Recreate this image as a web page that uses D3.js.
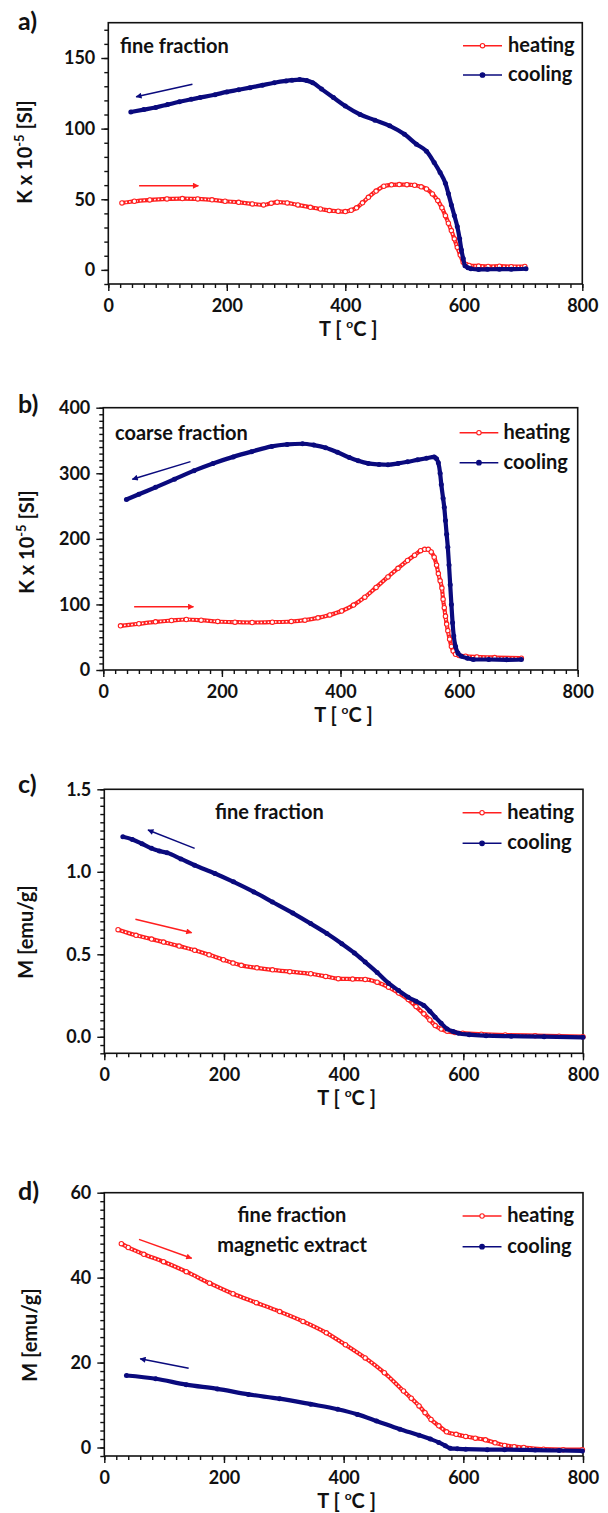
<!DOCTYPE html>
<html>
<head>
<meta charset="utf-8">
<script src="https://cdn.jsdelivr.net/npm/d3@7"></script>
<style>
  body { margin: 0; background: #fff; }
  svg { display: block; }
  text { font-family: Lato, 'Open Sans', sans-serif; font-weight: bold; fill: #111; }
</style>
</head>
<body>
<svg id="chart"></svg>
<script>
// ---- data (T in deg C) ----
const xTicks = [0, 200, 400, 600, 800];

// a) fine fraction, susceptibility
const tA_heat = [23,44,70,99,125,151,175,197,220,243,262,275,285,302,320,341,358,373,388,400,410,419,429,439,452,465,478,491,504,517,528,537,547,556,563,569,574,579,584,589,594,599,604,609,625,641,660,680,703];
const kA_heat = [47.4,48.6,49.5,50.2,50.5,50.2,49.6,48.6,47.8,46.7,46.0,47.2,47.9,47.4,46,44.3,43.1,42.0,41.5,41.3,42.2,43.9,47.5,51.4,55.8,59.2,60.2,60.4,60.3,59.9,58.8,57.3,53.8,49.1,44,38.4,33,27.8,22,16.0,10.5,5.4,3.8,3.1,2.7,2.4,2.6,2.3,2.4];
const tA_cool = [38,60,80,100,120,140,155,180,200,220,239,260,280,300,310,323,335,345,360,380,400,425,450,475,500,520,537,550,560,569,574,579,584,589,593,596,599,602,607,612,625,640,660,680,705];
const kA_cool = [111.8,113.5,115,117,119,120.8,122,124,126,127.5,129,130.8,132.5,133.8,134.3,134.7,134,132.5,128,122,116,110,106,102,96,89,84,76,69,61.3,54,46,38.5,30.7,22,14,8,3,1.5,0.8,0.3,0.4,0.5,0.5,0.8];

// b) coarse fraction, susceptibility
const tB_heat = [29,60,88,115,140,165,193,222,251,285,317,340,362,382,402,422,441,460,480,497,513,525,535,542,548,553,558,562,565,568,571,573,575,577,579,581,584,587,590,594,600,611,630,660,705];
const kB_heat = [67.3,70.5,73.4,75.5,77,76,74,73,72.4,73,74,76,79.5,84,90,99,111,126,142,155,167,175,182,184,184,180,172,160,147,136,125,108,95,82,70,60,47,36,29,24,22,21,20,19,18];
const tB_cool = [39,60,88,120,153,185,219,250,284,310,336,355,375,395,415,430,447,465,480,497,513,530,545,558,562,565,568,570,573,575,577,579,581,583,585,587,589,591,594,598,604,614,624,650,680,705];
const kB_cool = [260,268,278.5,291,304,315,325,333,341,344,345,343,339,332,324,319,315,313.5,313,315,317.5,320.5,323,325,322,316,300,283,262,248,228,207,187,160,130,100,72,52,36,26,21,18,16,16,15.5,16];

// c) fine fraction, magnetization
const tC_heat = [23,53,79,99,125,151,175,199,215,229,255,281,310,345,370,391,415,436,456,475,492,508,521,534,544,553,563,573,586,599,630,670,720,760,800];
const mC_heat = [0.649,0.615,0.592,0.574,0.55,0.524,0.497,0.467,0.447,0.433,0.418,0.406,0.395,0.382,0.366,0.352,0.350,0.348,0.331,0.301,0.265,0.226,0.183,0.139,0.102,0.068,0.047,0.034,0.026,0.022,0.016,0.011,0.007,0.004,0.001];
const tC_cool = [31,47,63,79,92,105,128,151,185,216,250,281,315,345,372,397,418,436,456,475,492,508,521,534,544,553,563,573,583,592,610,638,680,735,800];
const mC_cool = [1.212,1.196,1.17,1.142,1.126,1.115,1.078,1.04,0.99,0.939,0.878,0.817,0.75,0.686,0.626,0.564,0.508,0.453,0.39,0.325,0.28,0.24,0.215,0.19,0.155,0.119,0.082,0.048,0.032,0.022,0.013,0.007,0.004,0.001,-0.003];

// d) fine fraction magnetic extract, magnetization
const tD_heat = [28.5,40,66,99,137,176,215,254,293,332,371,403,436,468,500,513,526,536,546,559,572,588,604,620,637,653,669,685,701,734,767,799];
const mD_heat = [48,47.1,45.5,43.75,41.4,38.7,36.2,34.1,32,29.7,27,24.2,21.1,17.6,13.3,11.6,9.8,8.2,6.6,5.1,3.7,3.1,2.6,2.2,1.8,1.1,0.5,0.2,0,-0.4,-0.5,-0.5];
const tD_cool = [37,86,137,189,241,293,345,390,423,455,494,526,545,559,570,578,590,604,640,669,720,760,799];
const mD_cool = [16.95,16.2,14.8,13.8,12.5,11.5,10.2,9.0,7.8,6.25,4.3,2.9,2.0,1.2,0.4,-0.2,-0.3,-0.4,-0.5,-0.5,-0.6,-0.7,-0.8];

// direction arrows [t0, v0, t1, v1] in data units
const arrowsA = { cool: [142, 131.4, 47, 122.5], heat: [52, 59.6, 152, 59.6] };
const arrowsB = { cool: [147, 317.8, 49, 290.9], heat: [52, 96.6, 152, 96.6] };
const arrowsC = { cool: [151, 1.142, 73, 1.253], heat: [52, 0.712, 146, 0.631] };
const arrowsD = { cool: [141, 18.65, 60, 20.9], heat: [58, 49.0, 146, 44.55] };

const yTicksA = [0, 50, 100, 150];
const yTicksB = [0, 100, 200, 300, 400];
const yTicksC = [0, 0.5, 1.0, 1.5];
const yTicksD = [0, 20, 40, 60];

const RED = '#ff1f1f', BLUE = '#0a0a7d';

const panels = [
  { tag: 'a)', tagY: 30, box: { l: 108.3, r: 582.3, t: 22.7, b: 284 }, yDom: [-10, 175],
    yMajor: yTicksA, yStep: 10, fmt: d3.format('d'), ylab: 'kappa', ylabX: 32, ylabY: 152,
    heat: [tA_heat, kA_heat], cool: [tA_cool, kA_cool], arrows: arrowsA,
    notes: [{ s: 'fine fraction', x: 120, y: 53, a: 'start' }], leg: { x1: 463, x2: 502, y1: 45.7, y2: 75, tx: 508 } },
  { tag: 'b)', tagY: 413, box: { l: 103.3, r: 577.7, t: 407.7, b: 670 }, yDom: [0, 400],
    yMajor: yTicksB, yStep: 10, fmt: d3.format('d'), ylab: 'kappa', ylabX: 34, ylabY: 542,
    heat: [tB_heat, kB_heat], cool: [tB_cool, kB_cool], arrows: arrowsB,
    notes: [{ s: 'coarse fraction', x: 115, y: 440, a: 'start' }], leg: { x1: 459.6, x2: 498.3, y1: 432.7, y2: 462.7, tx: 503.5 } },
  { tag: 'c)', tagY: 793, box: { l: 104.3, r: 583, t: 789.3, b: 1053.3 }, yDom: [-0.1, 1.5],
    yMajor: yTicksC, yStep: 0.05, fmt: d3.format('.1f'), ylab: 'M', ylabX: 33, ylabY: 932,
    heat: [tC_heat, mC_heat], cool: [tC_cool, mC_cool], arrows: arrowsC,
    notes: [{ s: 'fine fraction', x: 215, y: 819, a: 'start' }], leg: { x1: 462.6, x2: 501.5, y1: 812.7, y2: 843.3, tx: 507.3 } },
  { tag: 'd)', tagY: 1200, box: { l: 104.3, r: 583, t: 1192.7, b: 1456 }, yDom: [-2, 60],
    yMajor: yTicksD, yStep: 2, fmt: d3.format('d'), ylab: 'M', ylabX: 37, ylabY: 1335,
    heat: [tD_heat, mD_heat], cool: [tD_cool, mD_cool], arrows: arrowsD,
    notes: [{ s: 'fine fraction', x: 292, y: 1221.7, a: 'middle' }, { s: 'magnetic extract', x: 292, y: 1251.7, a: 'middle' }],
    leg: { x1: 462.6, x2: 501.5, y1: 1216, y2: 1246.7, tx: 507.3 } }
];

const svg = d3.select('#chart').attr('width', 608).attr('height', 1513);
svg.append('rect').attr('width', 608).attr('height', 1513).attr('fill', '#fff');

const defs = svg.append('defs');
[['ah-heat', RED], ['ah-cool', BLUE]].forEach(([id, c]) => {
  defs.append('marker').attr('id', id).attr('viewBox', '0 0 10 10')
    .attr('refX', 9).attr('refY', 5).attr('markerWidth', 9).attr('markerHeight', 6)
    .attr('markerUnits', 'userSpaceOnUse').attr('orient', 'auto')
    .append('path').attr('d', 'M0,0L10,5L0,10z').attr('fill', c);
});

function styleAxis(sel, major) {
  sel.select('.domain').remove();
  sel.selectAll('line').attr('stroke', '#111').attr('stroke-width', 1.4);
  if (major) sel.selectAll('text').style('font-size', '18px').style('font-family', 'Lato, sans-serif').style('font-weight', 'bold').attr('fill', '#111');
}

panels.forEach(p => {
  const x = d3.scaleLinear().domain([0, 800]).range([p.box.l, p.box.r]);
  const y = d3.scaleLinear().domain(p.yDom).range([p.box.b, p.box.t]);
  const g = svg.append('g');

  const xMinor = d3.range(0, 801, 20);
  const yMinor = d3.range(Math.ceil(p.yDom[0] / p.yStep - 1e-6), Math.floor(p.yDom[1] / p.yStep + 1e-6) + 1).map(i => +(i * p.yStep).toFixed(4));

  g.append('g').attr('transform', `translate(0,${p.box.b})`)
    .call(d3.axisBottom(x).tickValues(xMinor).tickSize(4).tickFormat('')).call(s => styleAxis(s, false));
  g.append('g').attr('transform', `translate(0,${p.box.b})`)
    .call(d3.axisBottom(x).tickValues(xTicks).tickSize(7).tickPadding(8)).call(s => styleAxis(s, true));
  g.append('g').attr('transform', `translate(${p.box.l},0)`)
    .call(d3.axisLeft(y).tickValues(yMinor).tickSize(4).tickFormat('')).call(s => styleAxis(s, false));
  g.append('g').attr('transform', `translate(${p.box.l},0)`)
    .call(d3.axisLeft(y).tickValues(p.yMajor).tickSize(7).tickPadding(6).tickFormat(p.fmt)).call(s => styleAxis(s, true));

  g.append('rect').attr('x', p.box.l).attr('y', p.box.t)
    .attr('width', p.box.r - p.box.l).attr('height', p.box.b - p.box.t)
    .attr('fill', 'none').attr('stroke', '#111').attr('stroke-width', 1.6);

  const line = d3.line().x(d => x(d[0])).y(d => y(d[1])).curve(d3.curveMonotoneX);
  const heat = d3.zip(p.heat[0], p.heat[1]);
  const cool = d3.zip(p.cool[0], p.cool[1]);

  // heating: chain of open red circles
  g.append('path').datum(heat).attr('d', line).attr('fill', 'none').attr('stroke', RED).attr('stroke-width', 4.2);
  g.append('path').datum(heat).attr('d', line).attr('fill', 'none').attr('stroke', '#fff')
    .attr('stroke-width', 1.5).attr('stroke-dasharray', '1.6 2');
  g.selectAll('.hdot').data(heat).enter().append('circle')
    .attr('cx', d => x(d[0])).attr('cy', d => y(d[1])).attr('r', 2.2)
    .attr('fill', '#fff').attr('stroke', RED).attr('stroke-width', 1.1);

  // cooling: dense filled blue dots
  g.append('path').datum(cool).attr('d', line).attr('fill', 'none').attr('stroke', BLUE).attr('stroke-width', 4.2);
  g.selectAll('.cdot').data(cool).enter().append('circle')
    .attr('cx', d => x(d[0])).attr('cy', d => y(d[1])).attr('r', 2.5).attr('fill', BLUE);

  // arrows
  Object.entries(p.arrows).forEach(([k, a]) => {
    g.append('line').attr('x1', x(a[0])).attr('y1', y(a[1])).attr('x2', x(a[2])).attr('y2', y(a[3]))
      .attr('stroke', k === 'heat' ? RED : BLUE).attr('stroke-width', 1.5)
      .attr('marker-end', `url(#ah-${k})`);
  });

  // legend
  const L = p.leg;
  [['heating', L.y1, RED, true], ['cooling', L.y2, BLUE, false]].forEach(([name, ly, c, open]) => {
    g.append('line').attr('x1', L.x1).attr('x2', L.x2).attr('y1', ly).attr('y2', ly).attr('stroke', c).attr('stroke-width', 1.6);
    g.append('circle').attr('cx', (L.x1 + L.x2) / 2).attr('cy', ly).attr('r', open ? 2.2 : 2.3)
      .attr('fill', open ? '#fff' : c).attr('stroke', c).attr('stroke-width', 1.1);
    g.append('text').attr('x', L.tx).attr('y', ly + 6).style('font-size', '20px').text(name);
  });

  p.notes.forEach(n => {
    g.append('text').attr('x', n.x).attr('y', n.y).attr('text-anchor', n.a).style('font-size', '20px').text(n.s);
  });

  // panel tag
  svg.append('text').attr('x', 18).attr('y', p.tagY).style('font-size', '25px').text(p.tag);

  // x title
  const xt = g.append('text').attr('x', (p.box.l + p.box.r) / 2 + 3).attr('y', p.box.b + 52)
    .attr('text-anchor', 'middle').style('font-size', '20px');
  xt.append('tspan').text('T [ ');
  xt.append('tspan').attr('dy', -8).style('font-size', '12px').text('o');
  xt.append('tspan').attr('dy', 8).text('C ]');

  // y title
  const yt = g.append('text').attr('transform', `translate(${p.ylabX},${p.ylabY}) rotate(-90)`)
    .attr('text-anchor', 'middle').style('font-size', '20px');
  if (p.ylab === 'kappa') {
    yt.append('tspan').text('\u039A x 10');
    yt.append('tspan').attr('dy', -8).style('font-size', '13px').text('-5');
    yt.append('tspan').attr('dy', 8).text(' [SI]');
  } else {
    yt.text('M [emu/g]');
  }
});
</script>
</body>
</html>
